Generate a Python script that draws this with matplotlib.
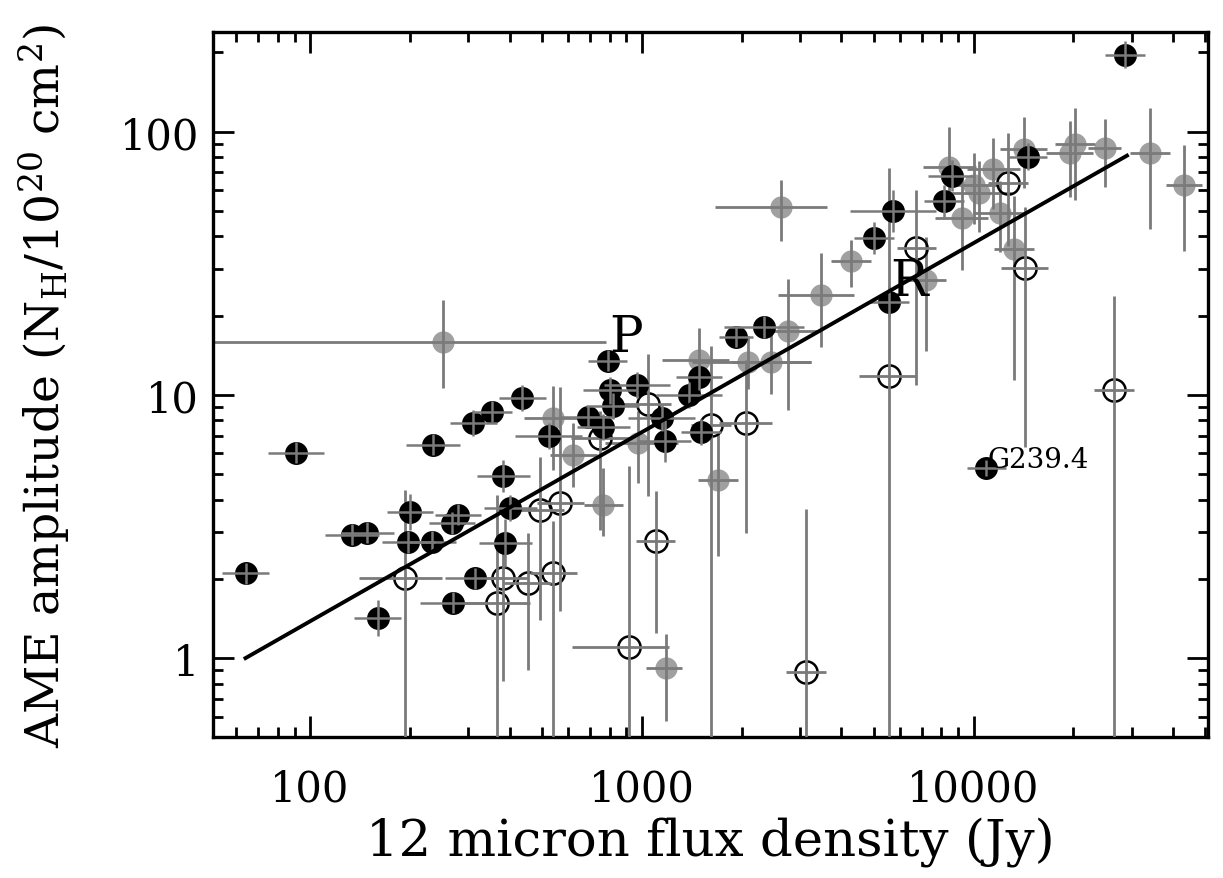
import numpy as np
import matplotlib
matplotlib.use("Agg")
import matplotlib.pyplot as plt
from matplotlib.ticker import FixedLocator, FixedFormatter, LogLocator, NullFormatter

plt.rcParams['font.family'] = ['DejaVu Serif']
plt.rcParams['mathtext.fontset'] = 'dejavuserif'

# filled black points: flux (Jy), AME amplitude, symmetric errors in dex
black_x = [64, 91, 134, 149, 160, 200, 198, 234, 235, 311, 355, 437, 270, 315, 383, 402,
           388, 268, 280, 524, 687, 767, 789, 800, 817, 966, 1148, 1172, 1387, 1486, 1507,
           1923, 2339, 5023, 5730, 5575, 8166, 8590, 14550, 28580, 10940]
black_y = [2.10, 6.02, 2.94, 2.99, 1.42, 3.59, 2.76, 2.76, 6.46, 7.83, 8.61, 9.74, 1.62, 2.01,
           4.92, 3.72, 2.74, 3.26, 3.50, 6.98, 8.25, 7.55, 13.5, 10.4, 9.09, 10.9, 8.18, 6.68,
           10.0, 11.7, 7.23, 16.6, 18.1, 39.5, 50.1, 22.6, 54.6, 68.0, 80.3, 196, 5.28]
black_xdex = [.07, .085, .08, .08, .07, .07, .08, .07, .08, .07, .06, .07, .10, .09, .08, .08,
              .08, .07, .07, .10, .08, .08, .06, .08, .08, .10, .10, .08, .10, .07, .06,
              .05, .12, .06, .13, .06, .06, .07, .06, .06, .06]
black_ydex = [.04, .04, .04, .04, .07, .07, .04, .04, .04, .05, .04, .05, .04, .04, .06, .05,
              .09, .04, .04, .05, .04, .05, .04, .05, .05, .05, .05, .08, .05, .05, .05,
              .04, .04, .06, .08, .06, .06, .06, .05, .05, .03]

# open circles: errors in dex (lower, upper)
open_x = [194, 367, 383, 453, 495, 569, 542, 751, 1042, 1101, 914, 1615, 2061, 3126, 5575,
          6730, 12680, 14260, 26480]
open_y = [2.01, 1.62, 2.01, 1.93, 3.66, 3.88, 2.10, 6.88, 9.25, 2.79, 1.10, 7.69, 7.83,
          0.885, 11.8, 36.2, 64.0, 30.4, 10.4]
open_xlo = [.14, .10, .07, .07, .07, .07, .07, .09, .09, .06, .17, .06, .08, .06, .09, .06, .06, .07, .06]
open_xhi = [.11, .10, .07, .07, .07, .07, .07, .09, .07, .06, .12, .06, .08, .06, .08, .06, .06, .07, .06]
open_ylo = [1.5, 1.5, .39, .33, .42, .41, 1.5, .35, .35, .35, 1.5, 1.5, .42, 1.5, 1.5, .52, .24, .68, 1.5]
open_yhi = [.335, .41, .17, .19, .20, .44, .20, .10, .19, .19, .69, .30, .24, .62, .79, .22, .19, .23, .36]

# grey points
grey_x = [252, 542, 623, 767, 973, 1183, 1486, 1698, 2090, 2454, 2762, 3474, 4275, 2630,
          7212, 9206, 8450, 10000, 11480, 10360, 11990, 13220, 14160, 20180, 19480, 24880,
          34050, 43060]
grey_y = [15.9, 8.18, 5.91, 3.82, 6.56, 0.916, 13.6, 4.75, 13.3, 13.3, 17.4, 24.0, 32.3, 51.9,
          27.4, 47.1, 73.6, 62.8, 71.8, 58.6, 49.2, 35.9, 86.1, 89.3, 83.2, 86.9, 83.2, 62.8]
grey_xlo = [1.0, .09, .07, .06, .10, .06, .11, .06, .17, .12, .10, .13, .06, .20,
            .08, .08, .08, .08, .08, .10, .08, .06, .07, .06, .07, .05, .06, .055]
grey_xhi = [.49, .14, .07, .06, .12, .05, .09, .06, .19, .12, .10, .10, .06, .14,
            .06, .08, .08, .08, .08, .10, .08, .06, .07, .06, .07, .05, .06, .055]
grey_ylo = [.175, .20, .12, .12, .15, .20, .15, .29, .10, .12, .30, .20, .10, .13,
            .27, .20, .12, .15, .15, .15, .15, .50, .15, .21, .17, .15, .29, .25]
grey_yhi = [.16, .12, .12, .14, .12, .13, .12, .18, .10, .12, .20, .16, .08, .10,
            .16, .15, .15, .12, .12, .12, .12, .20, .12, .14, .12, .11, .17, .15]

# fitted power law end points
fit_x = [64, 29000]
fit_y = [1.0, 81]


def errs(v, lo, hi):
    v = np.asarray(v, float)
    lo = np.asarray(lo, float)
    hi = np.asarray(hi, float)
    return [v - v / 10**lo, v * 10**hi - v]


fig = plt.figure(figsize=(12.23, 8.79), dpi=100)
ax = fig.add_axes([0.174, 0.160, 0.814, 0.802])
ax.set_xscale('log')
ax.set_yscale('log')

ecol = '#7a7a7a'
ax.errorbar(grey_x, grey_y, xerr=errs(grey_x, grey_xlo, grey_xhi),
            yerr=errs(grey_y, grey_ylo, grey_yhi), fmt='o', ms=15, color='#a0a0a0',
            mec='#a0a0a0', ecolor=ecol, elinewidth=2.0, capsize=0, barsabove=True, zorder=2)
ax.errorbar(open_x, open_y, xerr=errs(open_x, open_xlo, open_xhi),
            yerr=errs(open_y, open_ylo, open_yhi), fmt='o', ms=16, mfc='none', mec='black',
            mew=1.8, ecolor=ecol, elinewidth=2.0, capsize=0, barsabove=True, zorder=3)
ax.errorbar(black_x, black_y, xerr=errs(black_x, black_xdex, black_xdex),
            yerr=errs(black_y, black_ydex, black_ydex), fmt='o', ms=15.5, color='black',
            ecolor=ecol, elinewidth=1.8, capsize=0, barsabove=True, zorder=4)

ax.plot(fit_x, fit_y, color='black', lw=2.8, zorder=5)

ax.text(895, 16.5, 'P', fontsize=36, ha='center', va='center', zorder=6)
ax.text(6400, 27.0, 'R', fontsize=36, ha='center', va='center', zorder=6)
ax.text(11000, 5.7, 'G239.4', fontsize=20, ha='left', va='center', zorder=6)

ax.set_xlim(51, 51000)
ax.set_ylim(0.5, 238)

ax.xaxis.set_major_locator(FixedLocator([100, 1000, 10000]))
ax.xaxis.set_major_formatter(FixedFormatter(['100', '1000', '10000']))
ax.yaxis.set_major_locator(FixedLocator([1, 10, 100]))
ax.yaxis.set_major_formatter(FixedFormatter(['1', '10', '100']))
for a in (ax.xaxis, ax.yaxis):
    a.set_minor_locator(LogLocator(base=10, subs=np.arange(2, 10), numticks=20))
    a.set_minor_formatter(NullFormatter())

ax.tick_params(which='both', direction='in', top=True, right=True, width=2.0, labelsize=30)
ax.tick_params(which='major', length=15)
ax.tick_params(which='minor', length=7)
ax.tick_params(axis='x', pad=22)
ax.tick_params(axis='y', pad=10)
for s in ax.spines.values():
    s.set_linewidth(2.4)

ax.set_xlabel('12 micron flux density (Jy)', fontsize=37)
ax.set_ylabel(r'AME amplitude (N$_{\rm H}$/10$^{20}$ cm$^2$)', fontsize=34)
ax.xaxis.set_label_coords(0.5, -0.112)
ax.yaxis.set_label_coords(-0.14, 0.5)

fig.savefig('out.png', dpi=100)
